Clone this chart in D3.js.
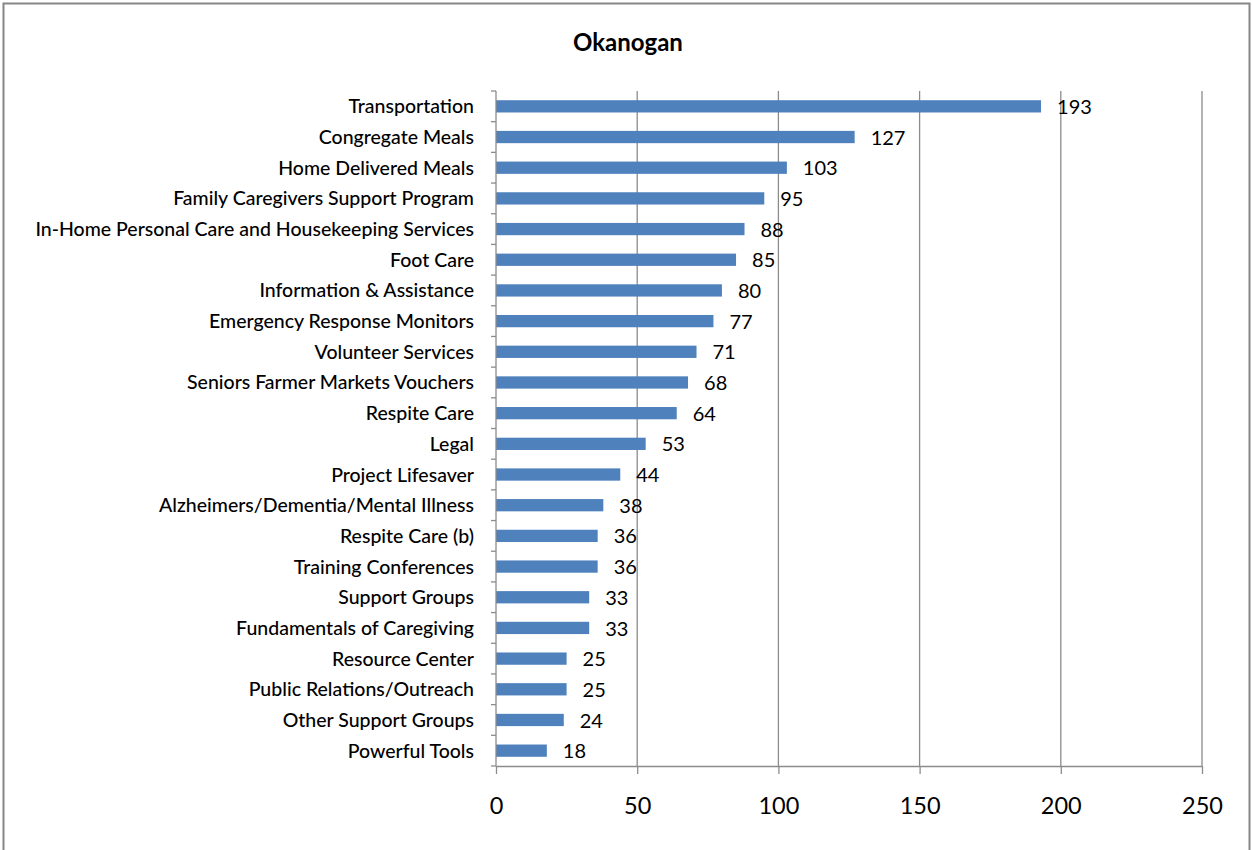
<!DOCTYPE html>
<html>
<head>
<meta charset="utf-8">
<script src="https://cdn.jsdelivr.net/npm/d3@7"></script>
<style>
  html, body { margin: 0; padding: 0; background: #fff; }
  svg { display: block; }
  text { font-family: "Lato", "Open Sans", sans-serif; fill: #000; }
</style>
</head>
<body>
<svg id="chart" width="1252" height="850"></svg>
<script>
// Services and counts for Okanogan
const categories = [
  "Transportation",
  "Congregate Meals",
  "Home Delivered Meals",
  "Family Caregivers Support Program",
  "In-Home Personal Care and Housekeeping Services",
  "Foot Care",
  "Information & Assistance",
  "Emergency Response Monitors",
  "Volunteer Services",
  "Seniors Farmer Markets Vouchers",
  "Respite Care",
  "Legal",
  "Project Lifesaver",
  "Alzheimers/Dementia/Mental Illness",
  "Respite Care (b)",
  "Training Conferences",
  "Support Groups",
  "Fundamentals of Caregiving",
  "Resource Center",
  "Public Relations/Outreach",
  "Other Support Groups",
  "Powerful Tools"
];
const values = [193, 127, 103, 95, 88, 85, 80, 77, 71, 68, 64, 53, 44, 38, 36, 36, 33, 33, 25, 25, 24, 18];
const xTicks = [0, 50, 100, 150, 200, 250];
const title = "Okanogan";

const svg = d3.select("#chart");
const W = 1252, H = 850;
const margin = { left: 496, right: 50, top: 91, bottom: 84 };

// chart frame
svg.append("rect")
  .attr("x", 3.5).attr("y", 3.5)
  .attr("width", W - 6).attr("height", H + 10)
  .attr("fill", "#fff").attr("stroke", "#868686").attr("stroke-width", 2);

const x = d3.scaleLinear().domain([0, 250]).range([margin.left, W - margin.right]);
const y = d3.scaleBand().domain(categories).range([margin.top, H - margin.bottom]).paddingInner(0.6).paddingOuter(0.3);
const yb = d3.scaleBand().domain(categories).range([margin.top, H - margin.bottom]);

// vertical gridlines
svg.append("g").selectAll("line").data(xTicks.slice(1)).join("line")
  .attr("x1", d => x(d)).attr("x2", d => x(d))
  .attr("y1", margin.top).attr("y2", H - margin.bottom)
  .attr("stroke", "#8c8c8c").attr("stroke-width", 1.3);

// bars
svg.append("g").selectAll("rect").data(categories).join("rect")
  .attr("x", x(0))
  .attr("y", d => y(d))
  .attr("width", (d, i) => x(values[i]) - x(0))
  .attr("height", y.bandwidth())
  .attr("fill", "#4f81bd");

// value labels
svg.append("g").selectAll("text").data(categories).join("text")
  .attr("x", (d, i) => x(values[i]) + 16)
  .attr("y", d => y(d) + y.bandwidth() / 2)
  .attr("dy", "0.38em")
  .attr("font-size", 20)
  .text((d, i) => values[i]);

// y axis line and category separator ticks
const yAxis = svg.append("g");
yAxis.append("line")
  .attr("x1", x(0)).attr("x2", x(0))
  .attr("y1", margin.top).attr("y2", H - margin.bottom)
  .attr("stroke", "#8c8c8c").attr("stroke-width", 1.3);
yAxis.selectAll("line.tick").data(categories.concat(["__end"])).join("line")
  .attr("class", "tick")
  .attr("x1", x(0) - 5).attr("x2", x(0))
  .attr("y1", (d, i) => margin.top + i * yb.step())
  .attr("y2", (d, i) => margin.top + i * yb.step())
  .attr("stroke", "#8c8c8c").attr("stroke-width", 1.3);
yAxis.selectAll("text").data(categories).join("text")
  .attr("x", x(0) - 22)
  .attr("y", d => yb(d) + yb.bandwidth() / 2)
  .attr("dy", "0.36em")
  .attr("text-anchor", "end")
  .attr("font-size", 19.5)
  .attr("font-weight", 500)
  .text(d => d);

// x axis
const xAxis = d3.axisBottom(x).tickValues(xTicks).tickSize(8).tickPadding(23).tickSizeOuter(0);
const gx = svg.append("g")
  .attr("transform", `translate(0,${H - margin.bottom})`)
  .call(xAxis);
gx.select(".domain").attr("stroke", "#8c8c8c").attr("stroke-width", 1.3);
gx.selectAll(".tick line").attr("stroke", "#8c8c8c").attr("stroke-width", 1.3);
gx.selectAll(".tick text")
  .attr("font-family", "Lato, 'Open Sans', sans-serif")
  .attr("font-size", 23.5).attr("fill", "#000");

// title
svg.append("text")
  .attr("x", 628).attr("y", 51)
  .attr("text-anchor", "middle")
  .attr("font-size", 24).attr("font-weight", 700)
  .text(title);
</script>
</body>
</html>
